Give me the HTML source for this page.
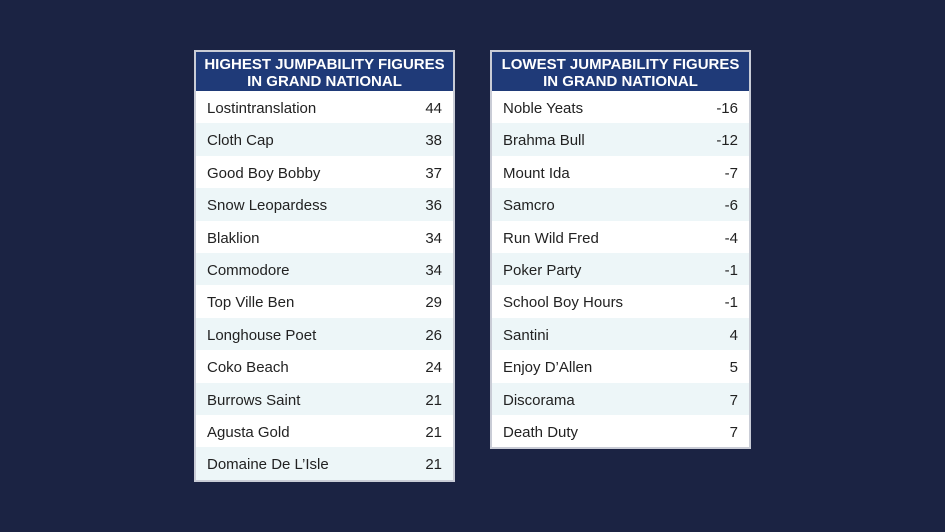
<!DOCTYPE html>
<html><head><style>
body{margin:0;width:945px;height:532px;background:#1b2343;font-family:"Liberation Sans",sans-serif;position:relative;overflow:hidden}
.t{position:absolute;top:50px;width:257px;border:2px solid #c9ccd6;background:#fff}
.h{background:#1f3a78;color:#fff;font-weight:bold;font-size:15px;line-height:17px;text-align:center;height:39px;padding-top:4px;box-sizing:border-box}
.r{height:32.4px;line-height:35px;font-size:15px;color:#222;display:flex;justify-content:space-between;padding:0 11px 0 11px;box-sizing:border-box}
.r:nth-child(odd){background:#edf6f8}
</style></head><body>
<div class="t" style="left:194px">
<div class="h">HIGHEST JUMPABILITY FIGURES<br>IN GRAND NATIONAL</div>
<div class="r"><span>Lostintranslation</span><span>44</span></div>
<div class="r"><span>Cloth Cap</span><span>38</span></div>
<div class="r"><span>Good Boy Bobby</span><span>37</span></div>
<div class="r"><span>Snow Leopardess</span><span>36</span></div>
<div class="r"><span>Blaklion</span><span>34</span></div>
<div class="r"><span>Commodore</span><span>34</span></div>
<div class="r"><span>Top Ville Ben</span><span>29</span></div>
<div class="r"><span>Longhouse Poet</span><span>26</span></div>
<div class="r"><span>Coko Beach</span><span>24</span></div>
<div class="r"><span>Burrows Saint</span><span>21</span></div>
<div class="r"><span>Agusta Gold</span><span>21</span></div>
<div class="r"><span>Domaine De L’Isle</span><span>21</span></div>
</div>
<div class="t" style="left:490px">
<div class="h">LOWEST JUMPABILITY FIGURES<br>IN GRAND NATIONAL</div>
<div class="r"><span>Noble Yeats</span><span>-16</span></div>
<div class="r"><span>Brahma Bull</span><span>-12</span></div>
<div class="r"><span>Mount Ida</span><span>-7</span></div>
<div class="r"><span>Samcro</span><span>-6</span></div>
<div class="r"><span>Run Wild Fred</span><span>-4</span></div>
<div class="r"><span>Poker Party</span><span>-1</span></div>
<div class="r"><span>School Boy Hours</span><span>-1</span></div>
<div class="r"><span>Santini</span><span>4</span></div>
<div class="r"><span>Enjoy D’Allen</span><span>5</span></div>
<div class="r"><span>Discorama</span><span>7</span></div>
<div class="r"><span>Death Duty</span><span>7</span></div>
</div>
</body></html>
